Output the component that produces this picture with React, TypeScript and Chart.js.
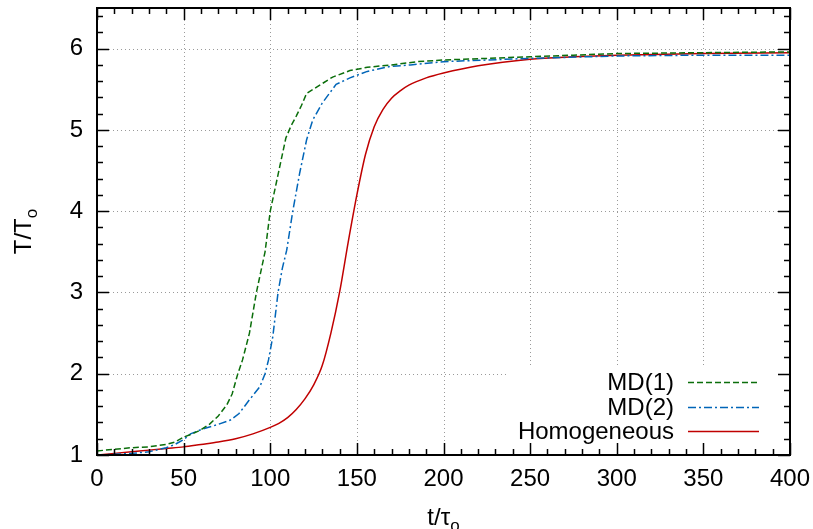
import React, { useEffect, useRef } from 'react';
import { Chart, registerables } from 'chart.js';

Chart.register(...registerables);

// ---- data ----
const homT = [0, 10, 20, 30, 40, 50, 60, 70, 80, 90, 100, 105, 110, 115, 120, 125, 130, 135, 140, 145, 150, 155, 160, 165, 170, 175, 180, 190, 200, 220, 250, 275, 300, 350, 400];
const homV = [1.0, 1.02, 1.04, 1.06, 1.08, 1.1, 1.13, 1.16, 1.2, 1.26, 1.34, 1.39, 1.46, 1.56, 1.69, 1.86, 2.1, 2.5, 3.0, 3.62, 4.2, 4.7, 5.04, 5.25, 5.39, 5.48, 5.55, 5.64, 5.7, 5.79, 5.87, 5.9, 5.92, 5.94, 5.95];

const md1T = [0, 10, 20, 30, 40, 45, 50, 55, 60, 65, 70, 75, 78, 81, 84, 88, 92, 97, 100, 103, 106, 109, 112, 115, 118, 121, 127, 136, 146, 156, 170, 185, 200, 225, 250, 275, 300, 350, 400];
const md1V = [1.05, 1.07, 1.09, 1.1, 1.13, 1.16, 1.22, 1.26, 1.31, 1.38, 1.48, 1.62, 1.75, 1.98, 2.17, 2.5, 3.0, 3.5, 4.0, 4.3, 4.6, 4.9, 5.05, 5.17, 5.3, 5.45, 5.53, 5.65, 5.73, 5.77, 5.8, 5.84, 5.86, 5.88, 5.9, 5.92, 5.94, 5.95, 5.96];

const md2T = [0, 10, 20, 30, 40, 45, 50, 54, 61, 69, 77, 82, 88, 94, 97, 99, 101.5, 104.5, 107, 109.5, 113, 117, 121, 124.5, 130, 138, 146, 156, 169, 181, 200, 225, 250, 300, 350, 400];
const md2V = [1.0, 1.01, 1.02, 1.04, 1.09, 1.13, 1.19, 1.26, 1.32, 1.37, 1.43, 1.51, 1.68, 1.84, 2.0, 2.17, 2.46, 3.0, 3.3, 3.52, 4.0, 4.47, 4.88, 5.12, 5.33, 5.56, 5.64, 5.72, 5.78, 5.8, 5.84, 5.86, 5.88, 5.91, 5.92, 5.92];

const seriesNames = ['MD(1)', 'MD(2)', 'Homogeneous'];
const xMajorTicks = [0, 50, 100, 150, 200, 250, 300, 350, 400];
const yMajorTicks = [1, 2, 3, 4, 5, 6];

const FONT = "'Liberation Sans', Arial, sans-serif";
const GREEN = '#0b6e0b';
const BLUE = '#0065b8';
const RED = '#c00000';

const toPts = (t: number[], v: number[]) => t.map((x, i) => ({ x, y: v[i] }));

const gnuplotPlugin = {
  id: 'gnuplotLook',
  beforeDatasetsDraw(chart: any) {
    const { ctx, chartArea: a, scales } = chart;
    const xs = scales.x;
    const ys = scales.y;
    ctx.save();
    ctx.strokeStyle = '#9a9a9a';
    ctx.lineWidth = 1;
    ctx.setLineDash([1, 3]);
    for (const v of xMajorTicks) {
      const px = Math.round(xs.getPixelForValue(v)) + 0.5;
      ctx.beginPath();
      ctx.moveTo(px, a.top);
      ctx.lineTo(px, a.bottom);
      ctx.stroke();
    }
    for (const v of yMajorTicks) {
      const py = Math.round(ys.getPixelForValue(v)) + 0.5;
      ctx.beginPath();
      ctx.moveTo(a.left, py);
      ctx.lineTo(a.right, py);
      ctx.stroke();
    }
    ctx.restore();
  },
  afterDatasetsDraw(chart: any) {
    const { ctx, chartArea: a } = chart;
    ctx.save();
    // legend box (white, hides grid)
    ctx.fillStyle = '#ffffff';
    ctx.fillRect(a.right - 282, a.bottom - 87, 270, 78);
    const rows = [
      { name: seriesNames[0], color: GREEN, dash: [6, 3] },
      { name: seriesNames[1], color: BLUE, dash: [8, 3, 2, 3] },
      { name: seriesNames[2], color: RED, dash: [] as number[] },
    ];
    const rowY = [a.bottom - 73, a.bottom - 48, a.bottom - 24];
    ctx.font = `24px ${FONT}`;
    ctx.textAlign = 'right';
    ctx.textBaseline = 'middle';
    rows.forEach((r, i) => {
      ctx.fillStyle = '#000';
      ctx.fillText(r.name, a.right - 116, rowY[i] + 1);
      ctx.strokeStyle = r.color;
      ctx.lineWidth = 1.5;
      ctx.setLineDash(r.dash);
      ctx.beginPath();
      ctx.moveTo(a.right - 102, rowY[i] + 0.5);
      ctx.lineTo(a.right - 31, rowY[i] + 0.5);
      ctx.stroke();
    });
    ctx.restore();
  },
  afterDraw(chart: any) {
    const { ctx, chartArea: a, scales } = chart;
    const xs = scales.x;
    const ys = scales.y;
    ctx.save();
    ctx.strokeStyle = '#000';
    ctx.setLineDash([]);
    // ticks
    ctx.lineWidth = 1.5;
    for (let v = 0; v <= 400; v += 10) {
      const major = v % 50 === 0;
      const len = major ? 12 : 6;
      const px = Math.round(xs.getPixelForValue(v)) + 0.5;
      ctx.beginPath();
      ctx.moveTo(px, a.bottom);
      ctx.lineTo(px, a.bottom - len);
      ctx.moveTo(px, a.top);
      ctx.lineTo(px, a.top + len);
      ctx.stroke();
    }
    for (let k = 0; k <= 27; k++) {
      const v = 1 + k * 0.2;
      const major = k % 5 === 0;
      const len = major ? 12 : 6;
      const py = Math.round(ys.getPixelForValue(v)) + 0.5;
      ctx.beginPath();
      ctx.moveTo(a.left, py);
      ctx.lineTo(a.left + len, py);
      ctx.moveTo(a.right, py);
      ctx.lineTo(a.right - len, py);
      ctx.stroke();
    }
    // border
    ctx.lineWidth = 2;
    ctx.strokeRect(a.left, a.top, a.right - a.left, a.bottom - a.top);

    // axis titles
    ctx.fillStyle = '#000';
    ctx.textBaseline = 'alphabetic';
    ctx.textAlign = 'left';
    const big = `24px ${FONT}`;
    const small = `17px ${FONT}`;
    // x title: t/τ_o
    ctx.font = big;
    const xMain = 't/τ';
    const wMain = ctx.measureText(xMain).width;
    ctx.font = small;
    const wSub = ctx.measureText('o').width;
    const cx = (a.left + a.right) / 2;
    const xStart = cx - (wMain + wSub) / 2;
    ctx.font = big;
    ctx.fillText(xMain, xStart, 525);
    ctx.font = small;
    ctx.fillText('o', xStart + wMain, 531);

    // y title: T/T_o (rotated)
    ctx.translate(31, (a.top + a.bottom) / 2);
    ctx.rotate(-Math.PI / 2);
    ctx.font = big;
    const yMain = 'T/T';
    const wy = ctx.measureText(yMain).width;
    ctx.font = small;
    const wys = ctx.measureText('o').width;
    const ys0 = -(wy + wys) / 2;
    ctx.font = big;
    ctx.fillText(yMain, ys0, 0);
    ctx.font = small;
    ctx.fillText('o', ys0 + wy, 6);
    ctx.restore();
  },
};

export default function App() {
  const ref = useRef<HTMLCanvasElement | null>(null);
  useEffect(() => {
    if (!ref.current) return;
    const chart = new Chart(ref.current, {
      type: 'line',
      data: {
        datasets: [
          {
            label: seriesNames[0],
            data: toPts(md1T, md1V),
            borderColor: GREEN,
            borderWidth: 1.5,
            borderDash: [6, 3],
            pointRadius: 0,
            tension: 0,
            fill: false,
          },
          {
            label: seriesNames[1],
            data: toPts(md2T, md2V),
            borderColor: BLUE,
            borderWidth: 1.5,
            borderDash: [8, 3, 2, 3],
            pointRadius: 0,
            tension: 0,
            fill: false,
          },
          {
            label: seriesNames[2],
            data: toPts(homT, homV),
            borderColor: RED,
            borderWidth: 1.5,
            pointRadius: 0,
            cubicInterpolationMode: 'monotone',
            fill: false,
          },
        ],
      },
      options: {
        animation: false,
        responsive: true,
        maintainAspectRatio: false,
        parsing: false as any,
        layout: { padding: { left: 0, right: 23, top: 8, bottom: 0 } },
        plugins: {
          legend: { display: false },
          tooltip: { enabled: false },
          title: { display: false },
        },
        scales: {
          x: {
            type: 'linear',
            min: 0,
            max: 400,
            grid: { display: false, drawTicks: false },
            border: { display: false },
            afterBuildTicks: (s: any) => {
              s.ticks = xMajorTicks.map((v) => ({ value: v }));
            },
            afterFit: (s: any) => {
              s.height = 74;
              s.paddingLeft = 0;
              s.paddingRight = 0;
              s.paddingTop = 0;
              s.paddingBottom = 0;
            },
            ticks: {
              padding: 10,
              maxRotation: 0,
              autoSkip: false,
              color: '#000',
              font: { family: FONT, size: 24 },
            },
          },
          y: {
            type: 'linear',
            min: 1,
            max: 6.5,
            grid: { display: false, drawTicks: false },
            border: { display: false },
            afterBuildTicks: (s: any) => {
              s.ticks = yMajorTicks.map((v) => ({ value: v }));
            },
            afterFit: (s: any) => {
              s.width = 97;
              s.paddingLeft = 0;
              s.paddingRight = 0;
              s.paddingTop = 0;
              s.paddingBottom = 0;
            },
            ticks: {
              padding: 14,
              color: '#000',
              font: { family: FONT, size: 24 },
            },
          },
        },
      },
      plugins: [gnuplotPlugin],
    });
    return () => chart.destroy();
  }, []);

  return (
    <div style={{ position: 'absolute', left: 0, top: 0, width: 813, height: 529, background: '#fff' }}>
      <canvas ref={ref} />
    </div>
  );
}
